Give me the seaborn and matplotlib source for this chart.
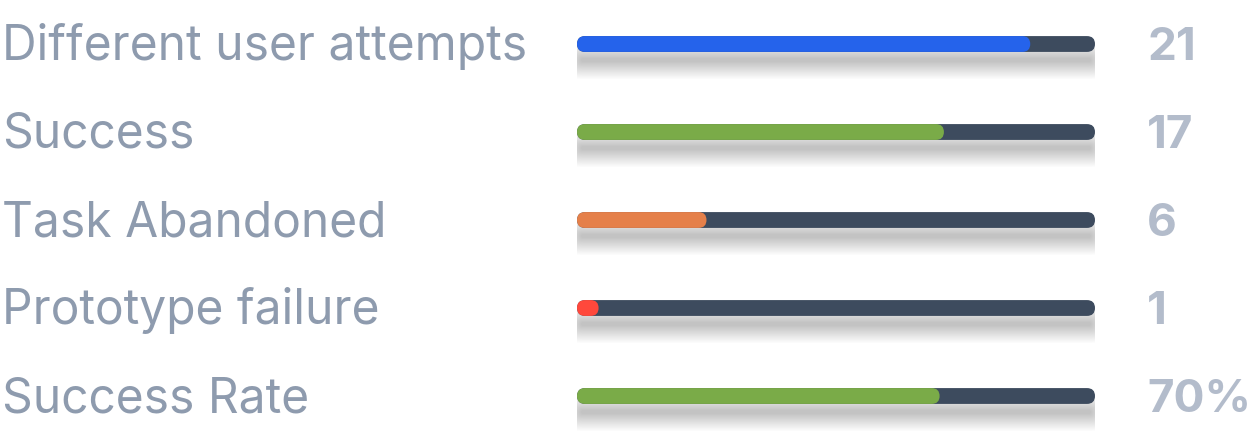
import matplotlib
matplotlib.use("Agg")
import matplotlib.pyplot as plt
import matplotlib.transforms as mtrans
from matplotlib.patches import FancyBboxPatch
import seaborn as sns
import pandas as pd

# data
labels = ["Different user attempts", "Success", "Task Abandoned", "Prototype failure", "Success Rate"]
counts = [21, 17, 6, 1, 70]
maxima = [24, 24, 24, 24, 100]
value_text = ["21", "17", "6", "1", "70%"]
bar_colors = ["#2563eb", "#7aab48", "#e5804a", "#ff483c", "#7aab48"]
track_color = "#3d4b5e"

df = pd.DataFrame({
    "label": labels,
    "pct": [c / m * 100 for c, m in zip(counts, maxima)],
    "full": [100] * len(labels),
})

sns.set_style("white")
plt.rcParams["font.family"] = ["Inter", "DejaVu Sans"]

W, H = 1252, 440
fig = plt.figure(figsize=(W / 100, H / 100), dpi=100)
ax = fig.add_axes([577 / W, 0, 518 / W, 1])

bar_h = 0.18
sns.barplot(data=df, x="full", y="label", color=track_color, width=bar_h,
            ax=ax, zorder=3, saturation=1)
sns.barplot(data=df, x="pct", y="label", hue="label", palette=bar_colors,
            width=bar_h, ax=ax, legend=False, zorder=4, saturation=1)
ax.set_xlim(0, 100)
ax.set_ylim(4.5, -0.5)
ax.axis("off")

px_x = 518 / 100
px_y = H / 5
radius = 8

# rounded bars
for bar in list(ax.patches):
    x, y = bar.get_x(), bar.get_y()
    w, h = bar.get_width(), bar.get_height()
    fb = FancyBboxPatch((x, y), w, h,
                        boxstyle=f"round,pad=0,rounding_size={radius / px_x}",
                        mutation_aspect=px_x / px_y,
                        fc=bar.get_facecolor(), ec="none", zorder=bar.get_zorder())
    bar.remove()
    ax.add_patch(fb)

# soft blurred shadow under each track
n_layers = 20
for i in range(len(labels)):
    cy = i + 16 / px_y
    for k in range(n_layers):
        hh_px = 4 + k * 1.8
        ext_px = k * 1.0 - 4
        hh = hh_px / px_y
        ext = ext_px / px_x
        rs = (hh_px / 2) / px_x
        sh = FancyBboxPatch((-ext, cy - hh / 2), 100 + 2 * ext, hh,
                            boxstyle=f"round,pad=0,rounding_size={rs}",
                            mutation_aspect=px_x / px_y,
                            fc="black", ec="none", alpha=0.012, zorder=1)
        ax.add_patch(sh)

# text
base = mtrans.blended_transform_factory(fig.transFigure, ax.transData)
trans = mtrans.offset_copy(base, fig=fig, x=0, y=-16, units="dots")
for i, (lab, val) in enumerate(zip(labels, value_text)):
    ax.text(2 / W, i, lab, transform=trans, ha="left", va="baseline",
            fontsize=34.5, color="#8e9bae", clip_on=False)
    ax.text(1147 / W, i, val, transform=trans, ha="left", va="baseline",
            fontsize=33, fontweight="bold", color="#b3bccb", clip_on=False)

fig.savefig("out.png", dpi=100)
